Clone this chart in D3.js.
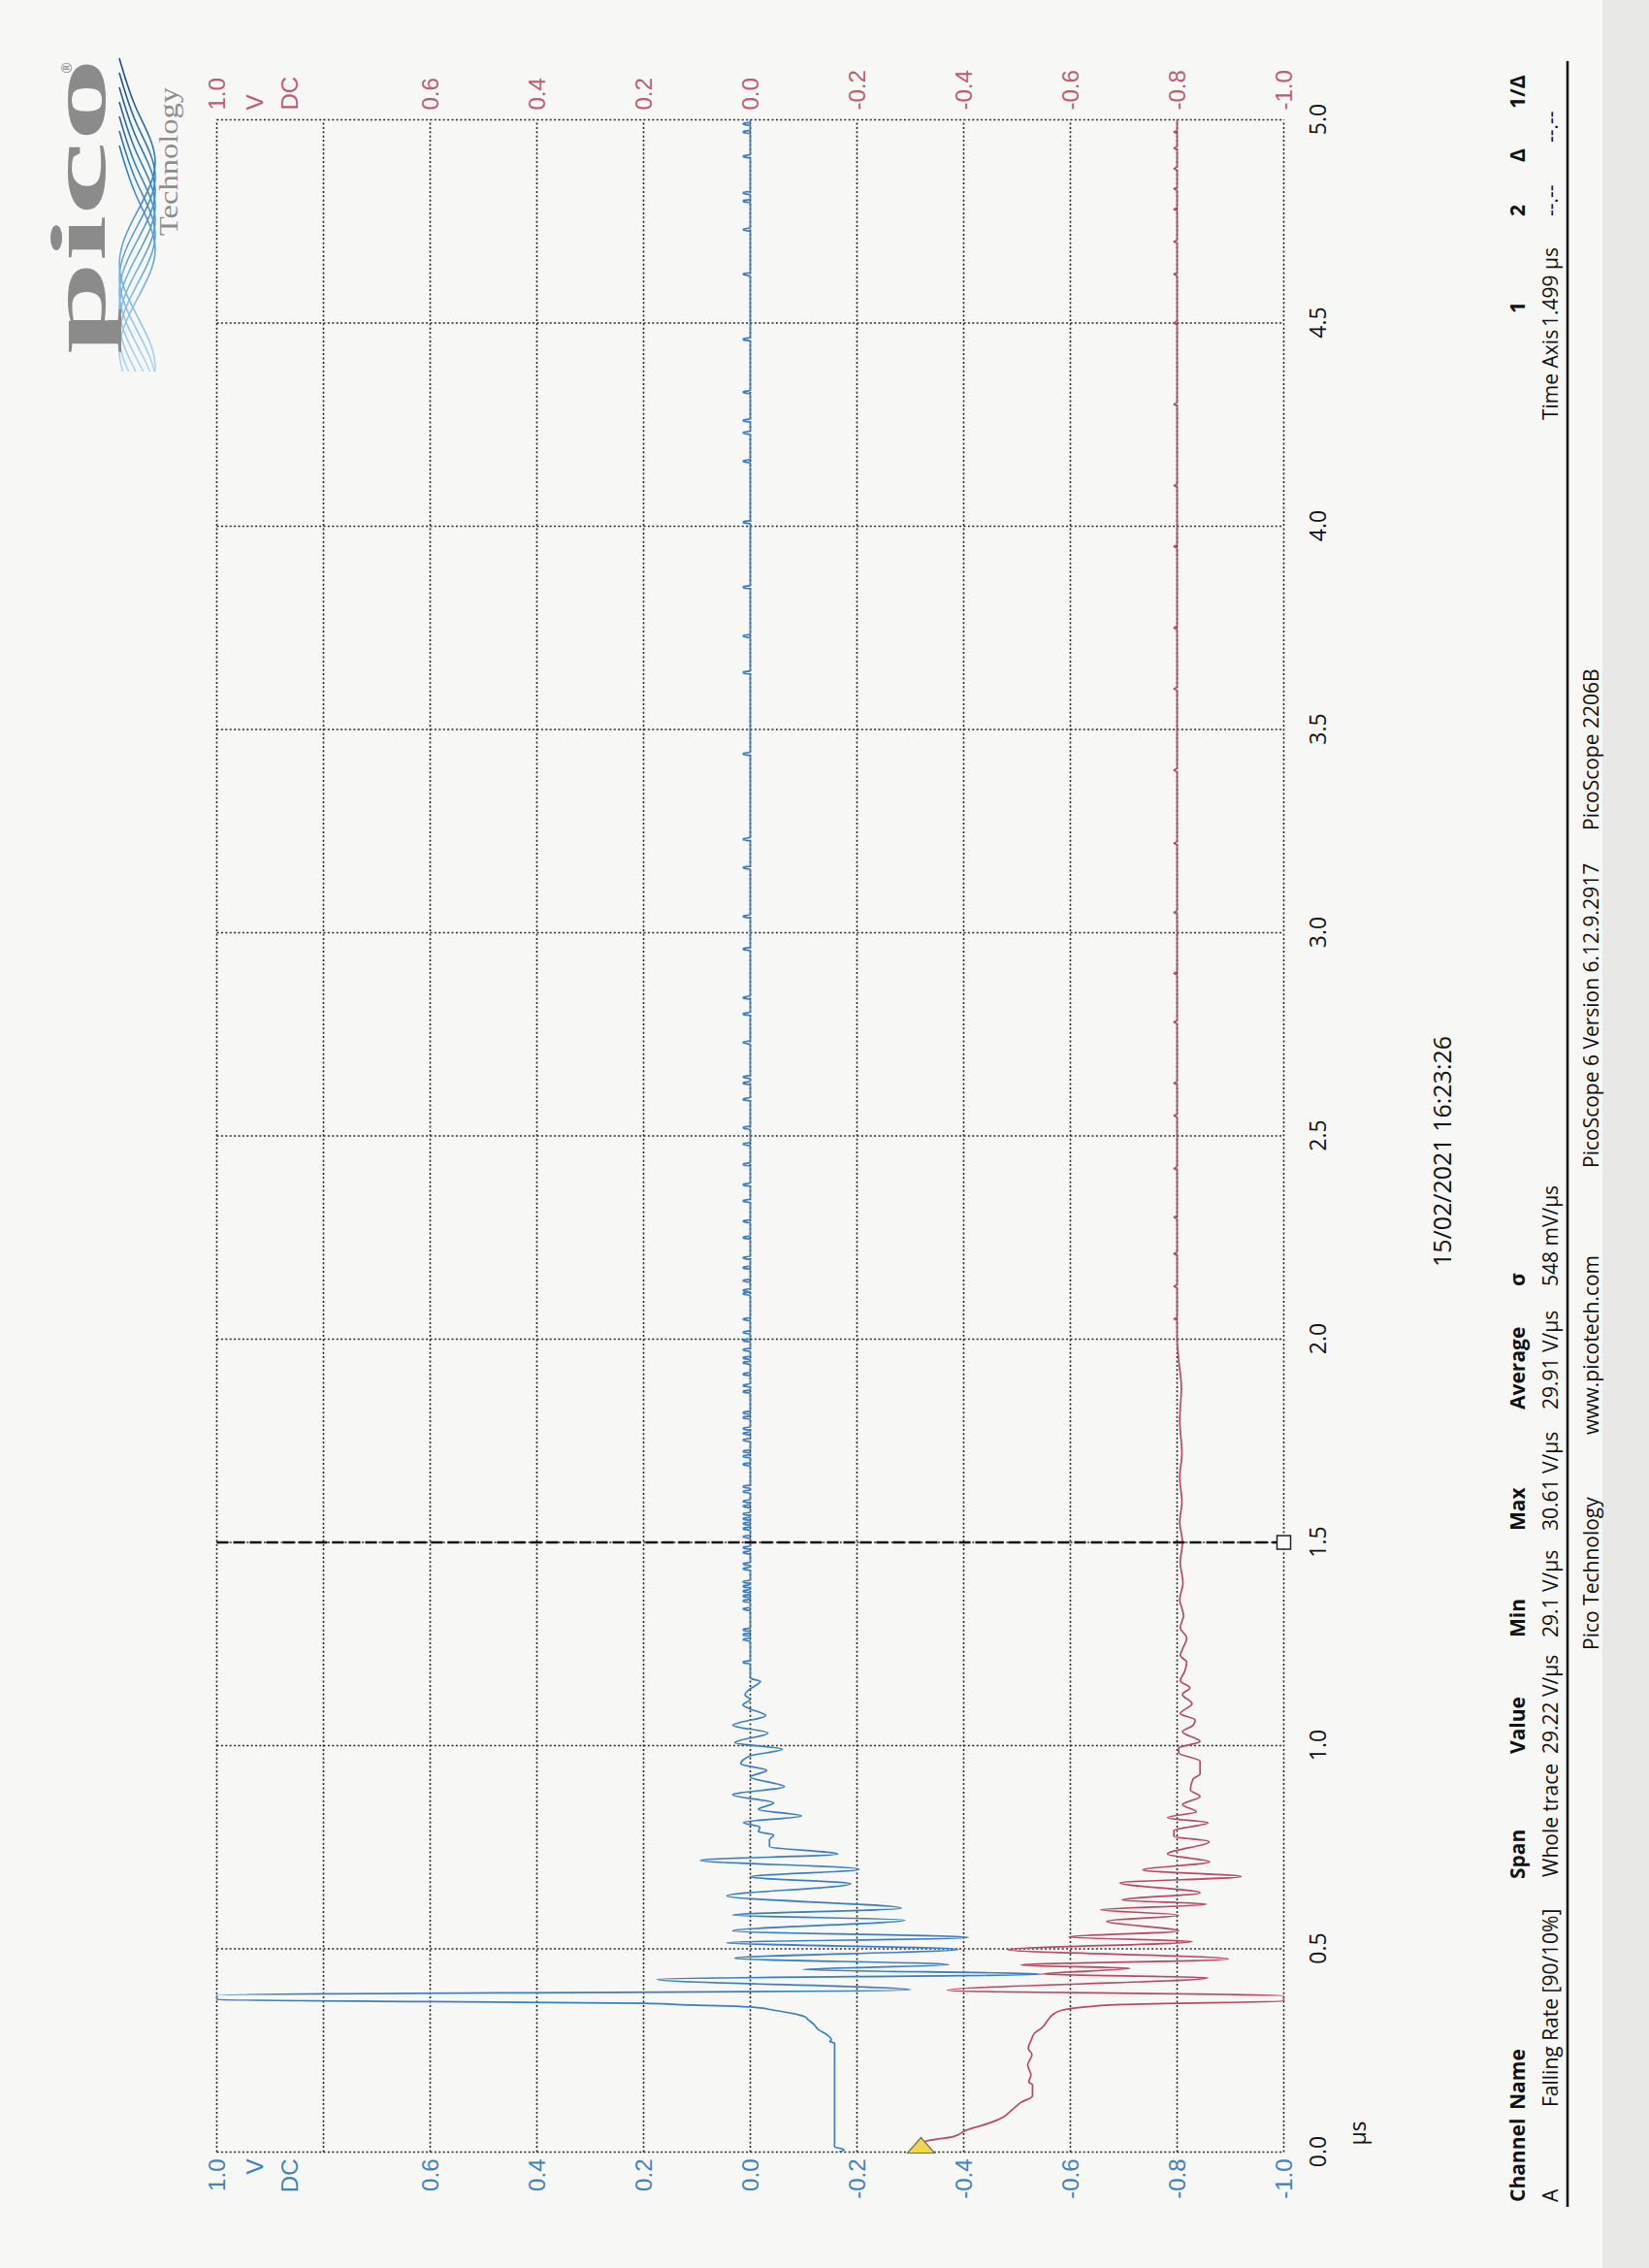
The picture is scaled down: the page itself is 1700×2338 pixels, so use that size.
<!DOCTYPE html>
<html>
<head>
<meta charset="utf-8">
<script src="https://d3js.org/d3.v7.min.js"></script>
<style>
  body { margin: 0; background: #f7f7f6; }
  svg { display: block; }
</style>
</head>
<body>
<svg width="1700" height="2338"></svg>
<script>
// ---- data ----
const timeTicks = [0, 0.5, 1, 1.5, 2, 2.5, 3, 3.5, 4, 4.5, 5];
const voltGrid = [1, 0.8, 0.6, 0.4, 0.2, 0, -0.2, -0.4, -0.6, -0.8, -1];
const voltLabels = [1, 0.6, 0.4, 0.2, 0, -0.2, -0.4, -0.6, -0.8, -1];
const unitLabels = ["V", "DC"];

// channel A (blue) [µs, V]
const blueTrace = [
  [0.000,-0.166],[0.006,-0.176],[0.013,-0.158],[0.268,-0.158],[0.272,-0.149],[0.276,-0.152],
  [0.293,-0.139],[0.301,-0.128],[0.313,-0.120],[0.325,-0.109],[0.333,-0.102],[0.341,-0.080],
  [0.349,-0.044],[0.357,0.000],[0.363,0.139],[0.366,0.200],[0.370,0.600],[0.375,1.000],
  [0.386,1.000],[0.399,-0.300],[0.425,0.174],[0.438,-0.547],[0.449,-0.099],[0.461,-0.372],
  [0.477,0.029],[0.499,-0.390],[0.515,0.044],[0.528,-0.409],[0.544,0.033],[0.571,-0.290],
  [0.583,0.033],[0.600,-0.283],[0.630,0.044],[0.660,-0.188],[0.677,0.000],[0.696,-0.204],
  [0.718,0.093],[0.733,-0.164],[0.752,-0.036],[0.768,-0.036],[0.780,-0.044],[0.789,-0.015],
  [0.799,-0.018],[0.811,0.013],[0.827,-0.096],[0.843,-0.015],[0.859,-0.044],[0.879,0.033],
  [0.899,-0.064],[0.923,0.000],[0.939,-0.031],[0.955,0.018],[0.975,0.000],[0.991,-0.060],
  [1.007,0.029],[1.031,-0.033],[1.050,0.033],[1.074,-0.029],[1.090,0.000],[1.100,0.014],
  [1.114,0.000],[1.125,0.010],[1.140,0.000],[1.158,-0.019],[1.166,0.000]
];
// small positive glitches on the settled blue trace [µs]
const blueGlitchTimes = [
  1.205,1.261,1.273,1.285,1.336,1.356,1.368,1.380,1.392,1.403,1.435,1.447,1.475,1.487,
  1.514,1.534,1.546,1.558,1.570,1.589,1.601,1.625,1.637,1.692,1.712,1.724,1.752,1.768,
  1.780,1.807,1.819,1.871,1.886,1.914,1.942,1.954,1.974,1.997,2.017,2.049,2.112,2.120,
  2.144,2.176,2.20,2.25,2.29,2.34,2.38,2.43,2.48,2.52,2.59,2.63,2.645,2.73,2.80,2.84,
  2.96,3.04,3.16,3.23,3.44,3.64,3.73,3.85,4.01,4.16,4.23,4.26,4.33,4.46,4.62,4.73,
  4.80,4.82,4.91,4.97,4.99
];
const blueGlitchHeight = 0.013;

// channel B (red) [µs, V]
const redTrace = [
  [0.000,-0.318],[0.026,-0.328],[0.038,-0.380],[0.054,-0.405],[0.070,-0.445],[0.086,-0.474],
  [0.102,-0.489],[0.122,-0.507],[0.138,-0.529],[0.166,-0.529],[0.172,-0.522],[0.190,-0.526],
  [0.214,-0.520],[0.240,-0.528],[0.255,-0.521],[0.277,-0.527],[0.293,-0.533],[0.305,-0.546],
  [0.325,-0.558],[0.337,-0.566],[0.349,-0.584],[0.357,-0.628],[0.363,-0.700],[0.366,-0.800],
  [0.371,-1.000],[0.384,-1.000],[0.398,-0.369],[0.429,-0.858],[0.438,-0.547],[0.452,-0.712],
  [0.460,-0.507],[0.475,-0.896],[0.498,-0.482],[0.518,-0.828],[0.529,-0.597],[0.544,-0.803],
  [0.568,-0.668],[0.583,-0.803],[0.596,-0.657],[0.610,-0.855],[0.620,-0.697],[0.638,-0.843],
  [0.662,-0.693],[0.678,-0.920],[0.694,-0.736],[0.714,-0.861],[0.733,-0.782],[0.764,-0.860],
  [0.777,-0.794],[0.791,-0.794],[0.810,-0.858],[0.823,-0.782],[0.837,-0.836],[0.855,-0.810],
  [0.875,-0.843],[0.891,-0.825],[0.918,-0.830],[0.930,-0.843],[0.962,-0.843],[0.982,-0.803],
  [0.994,-0.803],[1.010,-0.843],[1.034,-0.810],[1.050,-0.830],[1.063,-0.834],[1.079,-0.806],
  [1.103,-0.828],[1.126,-0.810],[1.142,-0.824],[1.160,-0.806],[1.182,-0.814],[1.205,-0.818],
  [1.222,-0.806],[1.237,-0.810],[1.265,-0.818],[1.290,-0.806],[1.320,-0.812],[1.360,-0.805],
  [1.400,-0.811],[1.450,-0.806],[1.500,-0.810],[1.550,-0.805],[1.600,-0.809],[1.660,-0.805],
  [1.720,-0.809],[1.800,-0.805],[1.880,-0.808],[1.950,-0.803],[2.000,-0.800]
];
const redRippleTimes = [
  2.05,2.13,2.21,2.30,2.42,2.55,2.63,2.78,2.90,3.05,3.22,3.40,3.60,3.75,3.95,4.10,
  4.30,4.50,4.62,4.70,4.78,4.83,4.88,4.93,4.97
];
const redRippleHeight = 0.006;

const cursorTime = 1.5;
const triggerLevel = -0.32;

const legendHeaders = ["Channel", "Name", "Span", "Value", "Min", "Max", "Average", "σ"];
const legendValues = ["A", "Falling Rate [90/10%]", "Whole trace", "29.22 V/µs", "29.1 V/µs",
                      "30.61 V/µs", "29.91 V/µs", "548 mV/µs"];
const cursorHeaders = ["1", "2", "Δ", "1/Δ"];
const cursorValues = ["Time Axis", "1.499 µs", "--.--", "--.--"];
const footerParts = ["Pico Technology", "www.picotech.com", "PicoScope 6 Version 6.12.9.2917", "PicoScope 2206B"];
const stamp = "15/02/2021 16:23:26";

// ---- layout ----
const W = 1700, H = 2338;
const plotLeft = 119.5, plotTop = 223.5, plotW = 2095, plotH = 1100;
const blueCol = "#3b7ec2", redCol = "#b84a63";
const blueText = "#3f82c0", redText = "#bd5d74";
const labelFont = "'Liberation Sans Narrow', 'Liberation Sans', Arial, sans-serif";
const textFont = "'Open Sans', 'Noto Sans', sans-serif";

const svg = d3.select("svg");
svg.append("rect").attr("width", W).attr("height", H).attr("fill", "#f7f7f6");
svg.append("rect").attr("x", 1652).attr("width", W - 1652).attr("height", H).attr("fill", "#e8e8e7");

// the printout is landscape, photographed turned a quarter turn
const page = svg.append("g").attr("transform", `translate(0,${H}) rotate(-90)`);

const x = d3.scaleLinear().domain([0, 5]).range([0, plotW]);
const y = d3.scaleLinear().domain([1, -1]).range([0, plotH]);

const plot = page.append("g").attr("transform", `translate(${plotLeft},${plotTop})`);

// dotted graticule
const grid = plot.append("g")
  .attr("stroke", "#262626").attr("stroke-width", 1.6).attr("stroke-dasharray", "2,2.4");
grid.selectAll(".vt").data(timeTicks).join("line")
  .attr("x1", d => x(d)).attr("x2", d => x(d)).attr("y1", 0).attr("y2", plotH);
grid.selectAll(".hv").data(voltGrid).join("line")
  .attr("x1", 0).attr("x2", plotW).attr("y1", d => y(d)).attr("y2", d => y(d));

const fmt = d => d.toFixed(1);

// channel A scale (blue, one side)
const axA = plot.append("g")
  .call(d3.axisLeft(y).tickValues(voltLabels).tickFormat(fmt).tickSize(0).tickPadding(7));
axA.select(".domain").remove();
axA.attr("font-family", labelFont).attr("font-size", 24);
axA.selectAll("text").attr("fill", blueText);

// channel B scale (red, other side)
const axB = plot.append("g").attr("transform", `translate(${plotW},0)`)
  .call(d3.axisRight(y).tickValues(voltLabels).tickFormat(fmt).tickSize(0).tickPadding(10));
axB.select(".domain").remove();
axB.attr("font-family", labelFont).attr("font-size", 24);
axB.selectAll("text").attr("fill", redText);

// unit labels under the 1.0 tick
const unitOffsets = [39.5, 75.5];
unitLabels.forEach((u, i) => {
  plot.append("text").attr("x", -7).attr("y", y(1) + unitOffsets[i]).attr("dy", "0.32em")
    .attr("text-anchor", "end").attr("font-family", labelFont).attr("font-size", 24)
    .attr("fill", blueText).text(u);
  plot.append("text").attr("x", plotW + 10).attr("y", y(1) + unitOffsets[i]).attr("dy", "0.32em")
    .attr("text-anchor", "start").attr("font-family", labelFont).attr("font-size", 24)
    .attr("fill", redText).text(u);
});

// time axis
const axT = plot.append("g").attr("transform", `translate(0,${plotH})`)
  .call(d3.axisBottom(x).tickValues(timeTicks).tickFormat(fmt).tickSize(0).tickPadding(27));
axT.select(".domain").remove();
axT.attr("font-family", textFont).attr("font-size", 23);
axT.selectAll("text").attr("fill", "#111");
plot.append("text").attr("x", 19.5).attr("y", 1184).attr("text-anchor", "middle")
  .attr("font-family", textFont).attr("font-size", 23).attr("fill", "#111").text("µs");

// traces
plot.append("clipPath").attr("id", "plotclip").append("rect")
  .attr("x", 0).attr("y", -1).attr("width", plotW).attr("height", plotH + 2);

const line = d3.line().curve(d3.curveMonotoneX).x(d => x(d[0])).y(d => y(d[1]));

const redPts = redTrace.slice();
redRippleTimes.forEach(t => {
  redPts.push([t - 0.004, -0.8], [t, -0.8 + redRippleHeight], [t + 0.004, -0.8]);
});
redPts.push([5, -0.8]);
redPts.sort((a, b) => a[0] - b[0]);

const bluePts = blueTrace.slice();
blueGlitchTimes.forEach(t => {
  bluePts.push([t - 0.004, 0], [t - 0.0015, blueGlitchHeight], [t + 0.0015, blueGlitchHeight], [t + 0.004, 0]);
});
bluePts.push([5, 0]);
bluePts.sort((a, b) => a[0] - b[0]);

const traces = plot.append("g").attr("clip-path", "url(#plotclip)").attr("fill", "none")
  .attr("stroke-width", 1.7).attr("stroke-linejoin", "round");
traces.append("path").datum(redPts).attr("stroke", redCol).attr("d", line);
traces.append("path").datum(bluePts).attr("stroke", blueCol).attr("d", line);

// time cursor
plot.append("line")
  .attr("x1", x(cursorTime)).attr("x2", x(cursorTime)).attr("y1", 0).attr("y2", plotH)
  .attr("stroke", "#111").attr("stroke-width", 2.3).attr("stroke-dasharray", "12,5");
plot.append("rect")
  .attr("x", x(cursorTime) - 7).attr("y", plotH - 7).attr("width", 14).attr("height", 14)
  .attr("fill", "#fafafa").attr("stroke", "#222").attr("stroke-width", 1.5);

// trigger marker
const ty = y(triggerLevel);
plot.append("path")
  .attr("d", `M${x(0) - 1},${ty - 14} L${x(0) + 15},${ty} L${x(0) - 1},${ty + 14} Z`)
  .attr("fill", "#f2d54c").attr("stroke", "#6f7452").attr("stroke-width", 1.2);

// ---- measurement table ----
const hdrCols = [68, 163, 401, 530, 650, 760, 885, 1012];
const valCols = [68, 166, 403, 530, 650, 760, 885, 1012];
legendHeaders.forEach((s, i) => {
  page.append("text").attr("x", hdrCols[i]).attr("y", 1572).attr("font-family", textFont)
    .attr("font-size", 21).attr("font-weight", "bold").attr("fill", "#111").text(s);
});
legendValues.forEach((s, i) => {
  page.append("text").attr("x", valCols[i]).attr("y", 1606).attr("font-family", textFont)
    .attr("font-size", 21).attr("fill", "#111").text(s);
});

// cursor table
const curHdrCols = [2015, 2115, 2171, 2226];
const curValCols = [1905, 2001, 2115, 2191];
cursorHeaders.forEach((s, i) => {
  page.append("text").attr("x", curHdrCols[i]).attr("y", 1572).attr("font-family", textFont)
    .attr("font-size", 21).attr("font-weight", "bold").attr("fill", "#111").text(s);
});
cursorValues.forEach((s, i) => {
  page.append("text").attr("x", curValCols[i]).attr("y", 1606).attr("font-family", textFont)
    .attr("font-size", 21).attr("fill", "#111").text(s);
});

page.append("line").attr("x1", 63).attr("x2", 2275).attr("y1", 1616).attr("y2", 1616)
  .attr("stroke", "#151515").attr("stroke-width", 2.6);

const footCols = [637, 859, 1134, 1482];
footerParts.forEach((s, i) => {
  page.append("text").attr("x", footCols[i]).attr("y", 1648).attr("font-family", textFont)
    .attr("font-size", 21).attr("fill", "#111").text(s);
});

page.append("text").attr("x", 1151).attr("y", 1496).attr("text-anchor", "middle")
  .attr("font-family", textFont).attr("font-size", 25).attr("fill", "#111").text(stamp);

// ---- logo ----
const logo = page.append("g");
logo.append("clipPath").attr("id", "waveclip").append("rect")
  .attr("x", 1955).attr("y", 110).attr("width", 330).attr("height", 70);
const grad = logo.append("linearGradient").attr("id", "wavegrad")
  .attr("gradientUnits", "userSpaceOnUse").attr("x1", 2278).attr("y1", 0).attr("x2", 1960).attr("y2", 0);
grad.append("stop").attr("offset", 0).attr("stop-color", "#1c4a84");
grad.append("stop").attr("offset", 0.35).attr("stop-color", "#2f7fc4");
grad.append("stop").attr("offset", 1).attr("stop-color", "#a9d6f3");

const waveShape = [[2278,123],[2225,141],[2172,160],[2119,141],[2066,123],[2013,141],[1960,160],[1907,141]];
const waveLine = d3.line().curve(d3.curveNatural);
const waves = logo.append("g").attr("clip-path", "url(#waveclip)").attr("fill", "none")
  .attr("stroke", "url(#wavegrad)").attr("stroke-width", 1.6);
d3.range(7).forEach(i => {
  waves.append("path").attr("d", waveLine(waveShape.map(p => [p[0] - 15 * i, p[1]])));
});

logo.append("text").attr("x", 1973).attr("y", 108)
  .attr("font-family", "'Liberation Serif', 'DejaVu Serif', serif").attr("font-weight", "bold")
  .attr("font-size", 80).attr("textLength", 305).attr("lengthAdjust", "spacingAndGlyphs")
  .attr("fill", "#8b8b8b").text("pico");
logo.append("text").attr("x", 2095).attr("y", 183)
  .attr("font-family", "'Liberation Serif', 'DejaVu Serif', serif")
  .attr("font-size", 27).attr("textLength", 153).attr("lengthAdjust", "spacingAndGlyphs")
  .attr("fill", "#8e8e8e").text("Technology");
logo.append("text").attr("x", 2268).attr("y", 74).attr("text-anchor", "middle")
  .attr("font-family", textFont).attr("font-size", 14).attr("fill", "#8b8b8b").text("®");
</script>
</body>
</html>
